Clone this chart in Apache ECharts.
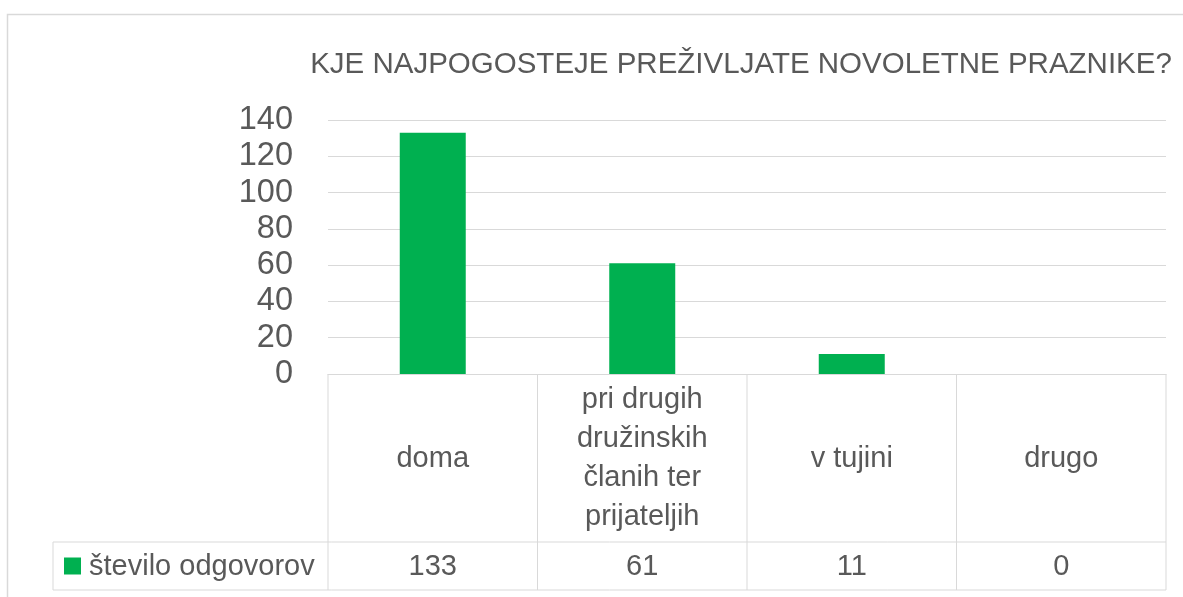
<!DOCTYPE html>
<html>
<head>
<meta charset="utf-8">
<script src="https://cdn.jsdelivr.net/npm/echarts@6/dist/echarts.min.js"></script>
<style>
	html, body {margin: 0; padding: 0; background: #fff;}
	#chart {width: 1183px; height: 597px;}
</style>
</head>
<body>
<div id="chart"></div>
<script>
const categories = ['doma', 'pri drugih\ndružinskih\nčlanih ter\nprijateljih', 'v tujini', 'drugo'];
const values = [133, 61, 11, 0];
const seriesName = 'število odgovorov';
const yTicks = [0, 20, 40, 60, 80, 100, 120, 140];
const titleText = 'KJE NAJPOGOSTEJE PREŽIVLJATE NOVOLETNE PRAZNIKE?';

const FONT = '"Liberation Sans", sans-serif';
const TEXT = '#595959';
const LINE = '#d9d9d9';
const GREEN = '#00b050';
const CELL_FONT = `29px ${FONT}`;

const chart = echarts.init(document.getElementById('chart'), null, {renderer: 'canvas'});

chart.setOption({
	animation: false,
	backgroundColor: '#fff',
	textStyle: {fontFamily: FONT},
	title: {
		text: titleText,
		left: 736,
		top: 45,
		textAlign: 'center',
		textStyle: {fontFamily: FONT, fontSize: 29.5, fontWeight: 'normal', color: TEXT},
	},
	grid: {left: 328, right: 17, top: 120, bottom: 223},
	xAxis: {
		type: 'category',
		data: categories,
		axisLine: {show: true, lineStyle: {color: LINE, width: 1}},
		axisTick: {show: false},
		axisLabel: {show: false},
	},
	yAxis: {
		type: 'value',
		min: yTicks[0],
		max: yTicks[yTicks.length - 1],
		interval: yTicks[1] - yTicks[0],
		axisLine: {show: false},
		axisTick: {show: false},
		axisLabel: {fontFamily: FONT, fontSize: 32.5, color: TEXT, margin: 35},
		splitLine: {lineStyle: {color: LINE, width: 1}},
	},
	series: [
		{
			name: seriesName,
			type: 'bar',
			barWidth: '31.5%',
			itemStyle: {color: GREEN},
			data: values,
		},
	],
});

// data table below the plot, laid out from the axis scales
function buildTable() {
	const c0 = chart.convertToPixel({xAxisIndex: 0}, 0);
	const c1 = chart.convertToPixel({xAxisIndex: 0}, 1);
	const band = c1 - c0;
	const y0 = chart.convertToPixel({yAxisIndex: 0}, 0);
	const headBottom = y0 + 168;
	const rowBottom = y0 + 216;
	const tableLeft = 53;
	const bounds = categories.map((_, i) => chart.convertToPixel({xAxisIndex: 0}, i) - band / 2);
	const right = bounds[bounds.length - 1] + band;
	bounds.push(right);

	const line = (x1, y1, x2, y2) => ({
		type: 'line',
		shape: {x1, y1, x2, y2},
		style: {stroke: LINE, lineWidth: 1},
		silent: true,
	});

	const els = [
		{
			type: 'rect',
			shape: {x: 7.5, y: 14.5, width: 1200, height: 620},
			style: {fill: 'none', stroke: LINE, lineWidth: 1.5},
			silent: true,
		},
	];

	bounds.forEach(x => els.push(line(x, y0, x, rowBottom)));
	els.push(line(tableLeft, headBottom, right, headBottom));
	els.push(line(tableLeft, rowBottom, right, rowBottom));
	els.push(line(tableLeft, headBottom, tableLeft, rowBottom));

	categories.forEach((name, i) => {
		const cx = bounds[i] + band / 2;
		els.push({
			type: 'text',
			x: cx,
			y: (y0 + headBottom) / 2 + 0.5,
			style: {
				text: name, fill: TEXT, font: CELL_FONT,
				lineHeight: 39, align: 'center', verticalAlign: 'middle',
			},
		});
		els.push({
			type: 'text',
			x: cx,
			y: (headBottom + rowBottom) / 2 + 1,
			style: {
				text: String(values[i]), fill: TEXT, font: CELL_FONT,
				align: 'center', verticalAlign: 'middle',
			},
		});
	});

	// legend key in the row header
	const rowMid = (headBottom + rowBottom) / 2;
	els.push({
		type: 'rect',
		shape: {x: 64, y: rowMid - 8.5, width: 17, height: 17},
		style: {fill: GREEN},
	});
	els.push({
		type: 'text',
		x: 89,
		y: rowMid + 1,
		style: {
			text: seriesName, fill: TEXT, font: CELL_FONT,
			align: 'left', verticalAlign: 'middle',
		},
	});

	chart.setOption({graphic: els});
}

buildTable();
</script>
</body>
</html>
